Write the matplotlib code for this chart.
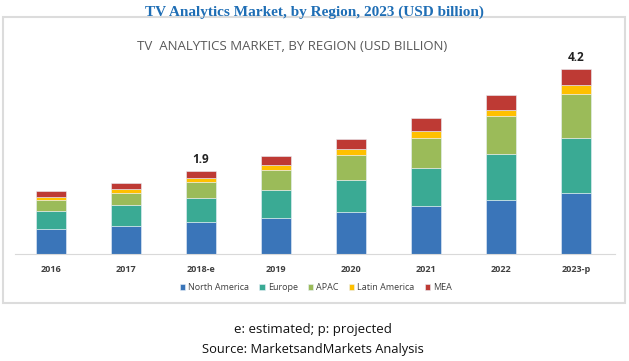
import numpy as np
import matplotlib.pyplot as plt
from matplotlib.patches import Rectangle

years = ['2016', '2017', '2018-e', '2019', '2020', '2021', '2022', '2023-p']
regions = ['North America', 'Europe', 'APAC', 'Latin America', 'MEA']

north_america = [0.575, 0.644, 0.735, 0.818, 0.947, 1.083, 1.220, 1.394]
europe = [0.410, 0.477, 0.530, 0.644, 0.742, 0.879, 1.045, 1.235]
apac = [0.250, 0.273, 0.364, 0.455, 0.569, 0.682, 0.864, 1.015]
latin_america = [0.060, 0.083, 0.098, 0.098, 0.128, 0.159, 0.151, 0.197]
mea = [0.135, 0.137, 0.159, 0.212, 0.220, 0.280, 0.334, 0.364]

labels = {2: '1.9', 7: '4.2'}

colors = ['#3A75B9', '#3AAA94', '#9BBB59', '#FFC000', '#BE3A34']

plt.rcParams['font.family'] = ['Open Sans', 'DejaVu Sans']

fig = plt.figure(figsize=(6.29, 3.61), dpi=100)
W, H = 629, 361

# outer gray frame
fig.patches.append(Rectangle((3 / W, 1 - 303 / H), 622 / W, 286 / H,
                             transform=fig.transFigure, fill=False,
                             edgecolor='#DCDCDC', linewidth=1.5))

ax = fig.add_axes([15 / W, 1 - 254 / H, 600 / W, 194 / H])

x = np.arange(len(years))
bottom = np.zeros(len(years))
for name, vals, c in zip(regions, [north_america, europe, apac, latin_america, mea], colors):
    ax.bar(x, vals, width=0.39, bottom=bottom, color=c, label=name,
           edgecolor='#E8F0F8', linewidth=0.4)
    bottom += np.array(vals)

for i, t in labels.items():
    ax.text(x[i], bottom[i] + 0.12, t, ha='center', va='bottom',
            fontsize=8.5, fontweight='bold', color='#222222')

ax.set_xlim(-0.48, 7.52)
ax.set_ylim(0, 194 / 44)
ax.set_xticks(x)
ax.set_xticklabels(years, fontsize=6.5, fontweight='bold', color='#404040')
ax.tick_params(axis='x', length=0, pad=8)
ax.set_yticks([])
for s in ['top', 'right', 'left']:
    ax.spines[s].set_visible(False)
ax.spines['bottom'].set_color('#D9D9D9')

leg = fig.legend(loc='center', bbox_to_anchor=(316 / W, 1 - 288 / H), ncol=5,
                 frameon=False, fontsize=6.5, handlelength=0.6, handleheight=0.6,
                 handletextpad=0.35, columnspacing=1.1)
for txt in leg.get_texts():
    txt.set_color('#404040')

fig.text(314 / W, 1 - 12 / H, 'TV Analytics Market, by Region, 2023 (USD billion)',
         ha='center', va='center', fontsize=11, fontweight='bold',
         color='#1F6EB5', family='Liberation Serif')
fig.text(292 / W, 1 - 47 / H, 'TV  ANALYTICS MARKET, BY REGION (USD BILLION)',
         ha='center', va='center', fontsize=9.5, color='#595959')
fig.text(313 / W, 1 - 330 / H, 'e: estimated; p: projected',
         ha='center', va='center', fontsize=9.5, color='#111111')
fig.text(313 / W, 1 - 349 / H, 'Source: MarketsandMarkets Analysis',
         ha='center', va='center', fontsize=9.3, color='#111111')

fig.savefig('out.png', dpi=100)
